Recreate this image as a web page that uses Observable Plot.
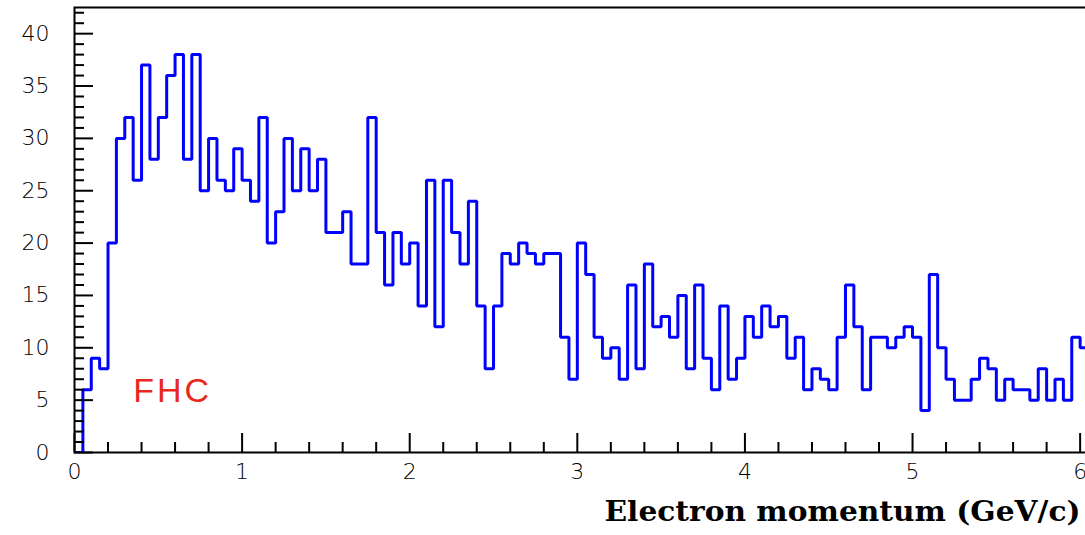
<!DOCTYPE html>
<html>
<head>
<meta charset="utf-8">
<script src="https://cdn.jsdelivr.net/npm/d3@7"></script>
<script src="https://cdn.jsdelivr.net/npm/@observablehq/plot@0.6"></script>
<style>
  html, body { margin: 0; padding: 0; background: #ffffff; }
  #chart svg { display: block; }
</style>
</head>
<body>
<div id="chart"></div>
<script>
// Histogram contents: counts per 0.05 GeV/c bin, starting at 0 GeV/c
const counts = [
  0, 6, 9, 8, 20, 30, 32, 26, 37, 28,
  32, 36, 38, 28, 38, 25, 30, 26, 25, 29,
  26, 24, 32, 20, 23, 30, 25, 29, 25, 28,
  21, 21, 23, 18, 18, 32, 21, 16, 21, 18,
  20, 14, 26, 12, 26, 21, 18, 24, 14, 8,
  14, 19, 18, 20, 19, 18, 19, 19, 11, 7,
  20, 17, 11, 9, 10, 7, 16, 8, 18, 12,
  13, 11, 15, 8, 16, 9, 6, 14, 7, 9,
  13, 11, 14, 12, 13, 9, 11, 6, 8, 7,
  6, 11, 16, 12, 6, 11, 11, 10, 11, 12,
  11, 4, 17, 10, 7, 5, 5, 7, 9, 8,
  5, 7, 6, 6, 5, 8, 5, 7, 5, 11,
  10
];
const binStart = 0;
const binWidth = 0.05;

const xMajorTicks = [0, 1, 2, 3, 4, 5, 6];
const xMinorTicks = [0.2, 0.4, 0.6, 0.8, 1.2, 1.4, 1.6, 1.8, 2.2, 2.4, 2.6, 2.8,
                     3.2, 3.4, 3.6, 3.8, 4.2, 4.4, 4.6, 4.8, 5.2, 5.4, 5.6, 5.8];
const yMajorTicks = [0, 5, 10, 15, 20, 25, 30, 35, 40];
const yMinorTicks = d3.range(0, 43).filter(v => v % 5 !== 0);

const xTitle = "Electron momentum (GeV/c)";
const annotation = "FHC";
const annotationX = 0.35;
const annotationY = 5.9;

// step outline points: left edge of every bin, plus the closing right edge
const points = counts.map((c, i) => ({x: binStart + i * binWidth, y: c}));
points.push({x: binStart + counts.length * binWidth, y: counts[counts.length - 1]});

const chart = Plot.plot({
  width: 1085,
  height: 535,
  marginLeft: 74,
  marginRight: 0,
  marginTop: 7,
  marginBottom: 83,
  x: {domain: [0, 6.032], label: null},
  y: {domain: [0, 42.5], label: null},
  style: {fontFamily: "'DejaVu Sans', sans-serif", fontSize: "22px", color: "black", background: "white"},
  marks: [
    Plot.frame({stroke: "black", strokeWidth: 2, insetRight: -4}),
    Plot.lineY(points, {x: "x", y: "y", curve: "step-after", stroke: "#0000ff", strokeWidth: 3, strokeLinejoin: "miter", clip: true}),
    Plot.axisX(xMajorTicks, {tickSize: -19, fill: "none", strokeWidth: 2, label: null}),
    Plot.axisX(xMinorTicks, {tickSize: -10, fill: "none", strokeWidth: 2, label: null}),
    Plot.axisX(xMajorTicks, {tickSize: 0, tickPadding: 11, fontSize: 22, fontWeight: 200, tickFormat: d => String(d), label: null}),
    Plot.axisY(yMajorTicks, {tickSize: -19, fill: "none", strokeWidth: 2, label: null}),
    Plot.axisY(yMinorTicks, {tickSize: -10, fill: "none", strokeWidth: 2, label: null}),
    Plot.axisY(yMajorTicks, {tickSize: 0, tickPadding: 25, fontSize: 22, fontWeight: 200, tickFormat: d => String(d), label: null}),
    Plot.text([xTitle], {text: d => d, frameAnchor: "bottom-right", textAnchor: "end", lineAnchor: "middle", dx: -5, dy: 60,
                         fontSize: 27, fontWeight: "bold", fontFamily: "'DejaVu Serif', serif", fill: "black"}),
    Plot.text([annotation], {text: d => d, x: () => annotationX, y: () => annotationY, textAnchor: "start", lineAnchor: "middle",
                             fontSize: 34, fontFamily: "'Liberation Sans', Arial, sans-serif", fill: "#e8281c"})
  ]
});

const sel = d3.select(chart).selectAll("text");
sel.filter(function() { return this.textContent === annotation; })
  .style("letter-spacing", "3px");
sel.filter(function() { return this.textContent === xTitle; })
  .attr("textLength", 476)
  .attr("lengthAdjust", "spacingAndGlyphs");

document.getElementById("chart").appendChild(chart);
</script>
</body>
</html>
